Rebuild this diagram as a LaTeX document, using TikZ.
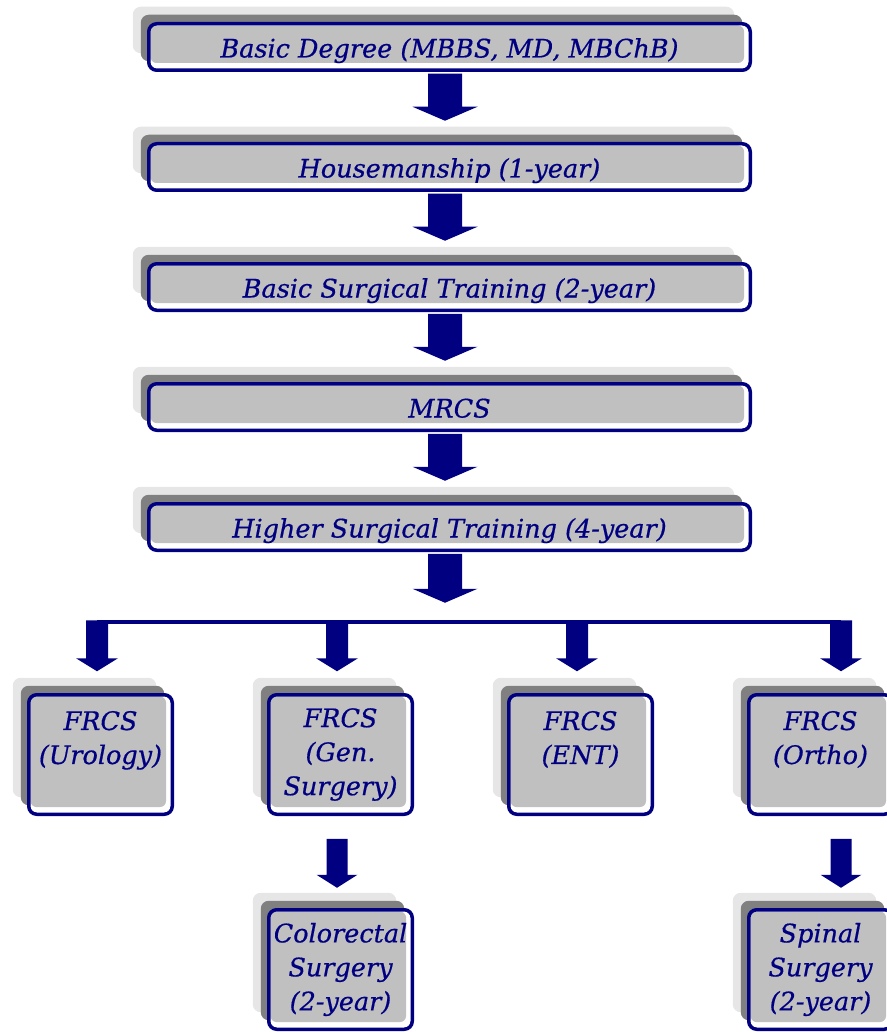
\documentclass[tikz,border=0pt]{standalone}
\usepackage{fontspec}
\setmainfont{DejaVu Serif}
\newfontfamily\stagefont{DejaVu Serif}[FakeBold=0.6]
\usetikzlibrary{calc,shadows}

\definecolor{navy}{HTML}{000080}
\definecolor{shadelight}{HTML}{E6E6E6}
\definecolor{shadedark}{HTML}{808080}
\definecolor{panelfill}{HTML}{C0C0C0}

\tikzset{
  stage/.style={
    draw=navy, line width=3.5pt, fill=white, rounded corners=8pt,
    inner sep=0pt, align=center, text=navy,
    font=\stagefont\fontsize{25.5}{34}\selectfont\itshape,
    general shadow={fill=shadelight, shadow xshift=-16pt, shadow yshift=17pt},
    general shadow={fill=shadedark, shadow xshift=-8pt, shadow yshift=9pt},
    path picture={
      \fill[panelfill, rounded corners=6pt]
        ([shift={(1.75pt,-1.75pt)}]path picture bounding box.north west)
        rectangle
        ([shift={(-6.25pt,7.25pt)}]path picture bounding box.south east);
    }
  },
  widestage/.style={stage, minimum width=601.5pt, minimum height=46.5pt,
    text height=21pt, text depth=0pt},
  tilestage/.style={stage, minimum width=143.5pt, minimum height=119.5pt},
  arrowfill/.style={fill=navy},
  branchline/.style={draw=navy, line width=3.5pt}
}

% block arrow pointing down:
% #1 start point, #2 shaft half width, #3 head half width,
% #4 shaft length, #5 head length
\newcommand\stemarrow[5]{%
  \fill[arrowfill] (#1) ++(-#2,0) -- ++(0,#4) -- ++(#2-#3,0)
    -- ++(#3,#5) -- ++(#3,-#5) -- ++(#2-#3,0) -- ++(0,-#4) -- cycle;}

\begin{document}
\begin{tikzpicture}[x=1pt,y=-1pt]
\useasboundingbox (0,0) rectangle (886,1032);

% main sequence
\node[widestage] (deg)   at (449.5,47)  {Basic Degree (MBBS, MD, MBChB)};
\node[widestage] (house) at (449.5,167) {Housemanship (1-year)};
\node[widestage] (bst)   at (449.5,287) {Basic Surgical Training (2-year)};
\node[widestage] (mrcs)  at (449.5,407) {MRCS};
\node[widestage] (hst)   at (449.5,527) {Higher Surgical Training (4-year)};

% specialties
\node[tilestage] (uro)   at (100.5,754.5) {FRCS\\(Urology)\\\mbox{}};
\node[tilestage] (gen)   at (340.5,754.5) {FRCS\\(Gen.\\Surgery)};
\node[tilestage] (ent)   at (580.5,754.5) {FRCS\\(ENT)\\\mbox{}};
\node[tilestage] (ortho) at (820.5,754.5) {FRCS\\(Ortho)\\\mbox{}};

% sub-specialties
\node[tilestage] (colo)  at (340.5,969.5) {Colorectal\\Surgery\\(2-year)};
\node[tilestage] (spine) at (820.5,969.5) {Spinal\\Surgery\\(2-year)};

% arrows along the main sequence
\stemarrow{[xshift=-4.5pt,yshift=-1.75pt]deg.south}{17}{32.5}{33}{14}
\stemarrow{[xshift=-4.5pt,yshift=-1.75pt]house.south}{17}{32.5}{33}{14}
\stemarrow{[xshift=-4.5pt,yshift=-1.75pt]bst.south}{17}{32.5}{33}{14}
\stemarrow{[xshift=-4.5pt,yshift=-1.75pt]mrcs.south}{17}{32.5}{33}{14}
\stemarrow{[xshift=-4.5pt,yshift=-1.75pt]hst.south}{17}{32.5}{35}{14}

% branching bar
\coordinate (b1) at ([xshift=-3.5pt]uro.north |- 0,622);
\coordinate (b2) at ([xshift=-3.5pt]gen.north |- 0,622);
\coordinate (b3) at ([xshift=-3.5pt]ent.north |- 0,622);
\coordinate (b4) at ([xshift=20.5pt]ortho.north |- 0,622);
\draw[branchline] (b1) -- (b4);
\stemarrow{[yshift=1.75pt]b1}{11}{21}{38}{13}
\stemarrow{[yshift=1.75pt]b2}{11}{21}{38}{13}
\stemarrow{[yshift=1.75pt]b3}{11}{21}{38}{13}
\stemarrow{[yshift=1.75pt]b4}{11}{21}{38}{13}

% arrows to sub-specialties
\stemarrow{[xshift=-3.5pt,yshift=-22.75pt]gen.south}{10.5}{20.5}{36}{13}
\stemarrow{[xshift=20.5pt,yshift=-22.75pt]ortho.south}{10.5}{20.5}{36}{13}
\end{tikzpicture}
\end{document}
